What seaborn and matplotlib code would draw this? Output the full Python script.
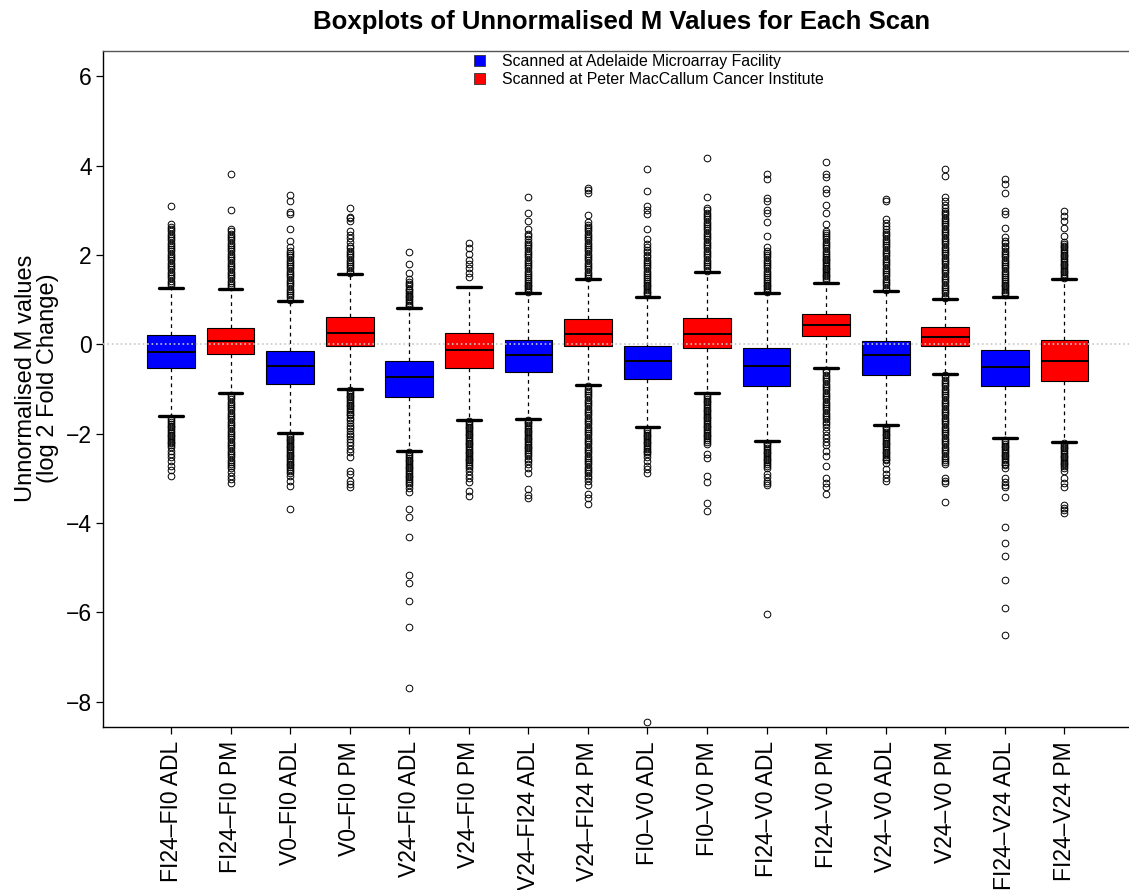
import numpy as np
import pandas as pd
import matplotlib
matplotlib.use("Agg")
import matplotlib.pyplot as plt
from matplotlib.patches import Patch
import seaborn as sns

# ---------------- data ----------------
scans = ["FI24–FI0 ADL", "FI24–FI0 PM", "V0–FI0 ADL", "V0–FI0 PM",
         "V24–FI0 ADL", "V24–FI0 PM", "V24–FI24 ADL", "V24–FI24 PM",
         "FI0–V0 ADL", "FI0–V0 PM", "FI24–V0 ADL", "FI24–V0 PM",
         "V24–V0 ADL", "V24–V0 PM", "FI24–V24 ADL", "FI24–V24 PM"]
sites = ["ADL", "PM"] * 8

q1 = [-0.53, -0.22, -0.89, -0.04, -1.19, -0.53, -0.61, -0.03,
      -0.77, -0.09, -0.93, 0.18, -0.69, -0.04, -0.93, -0.82]
median = [-0.17, 0.08, -0.48, 0.26, -0.74, -0.12, -0.24, 0.24,
          -0.38, 0.24, -0.48, 0.44, -0.24, 0.17, -0.50, -0.37]
q3 = [0.21, 0.37, -0.14, 0.61, -0.38, 0.25, 0.10, 0.57,
      -0.03, 0.60, -0.09, 0.68, 0.07, 0.39, -0.12, 0.10]
whisk_lo = [-1.60, -1.10, -1.99, -1.00, -2.38, -1.69, -1.67, -0.91,
            -1.85, -1.10, -2.16, -0.52, -1.80, -0.66, -2.09, -2.18]
whisk_hi = [1.27, 1.25, 0.96, 1.57, 0.82, 1.29, 1.16, 1.46,
            1.06, 1.61, 1.15, 1.37, 1.20, 1.01, 1.05, 1.46]

out_hi = [
    [1.33, 1.38, 1.43, 1.48, 1.53, 1.58, 1.63, 1.68, 1.73, 1.78, 1.83, 1.88, 1.93, 1.98, 2.03,
     2.08, 2.13, 2.18, 2.23, 2.28, 2.33, 2.38, 2.43, 2.48, 2.53, 2.58, 2.62, 2.70, 3.09],
    [1.28, 1.33, 1.38, 1.43, 1.48, 1.53, 1.58, 1.63, 1.68, 1.73, 1.78, 1.83, 1.88, 1.93, 1.98,
     2.03, 2.08, 2.13, 2.18, 2.23, 2.28, 2.33, 2.38, 2.43, 2.48, 2.53, 2.58, 3.02, 3.81],
    [1.00, 1.05, 1.10, 1.15, 1.20, 1.25, 1.30, 1.35, 1.40, 1.45, 1.50, 1.55, 1.60, 1.65, 1.70,
     1.75, 1.80, 1.85, 1.90, 1.95, 2.00, 2.05, 2.10, 2.17, 2.32, 2.58, 2.91, 2.97, 3.21, 3.35],
    [1.60, 1.65, 1.70, 1.75, 1.80, 1.85, 1.90, 1.95, 2.00, 2.05, 2.10, 2.15, 2.20, 2.29, 2.39,
     2.45, 2.54, 2.76, 2.82, 2.86, 3.06],
    [0.85, 0.89, 0.93, 0.97, 1.01, 1.05, 1.09, 1.13, 1.17, 1.21, 1.25, 1.30, 1.35, 1.40, 1.46,
     1.60, 1.81, 2.06],
    [1.51, 1.60, 1.70, 1.79, 1.90, 2.02, 2.15, 2.28],
    [1.18, 1.22, 1.26, 1.30, 1.34, 1.38, 1.42, 1.46, 1.50, 1.55, 1.60, 1.65, 1.70, 1.75, 1.80,
     1.85, 1.90, 1.95, 2.00, 2.05, 2.10, 2.15, 2.20, 2.25, 2.30, 2.36, 2.42, 2.47, 2.58, 2.76,
     2.95, 3.31],
    [1.48, 1.53, 1.58, 1.63, 1.68, 1.73, 1.78, 1.83, 1.88, 1.93, 1.98, 2.03, 2.08, 2.13, 2.18,
     2.23, 2.28, 2.33, 2.38, 2.43, 2.48, 2.53, 2.58, 2.63, 2.68, 2.73, 2.90, 3.38, 3.45, 3.50],
    [1.10, 1.14, 1.18, 1.22, 1.26, 1.30, 1.34, 1.38, 1.42, 1.46, 1.50, 1.55, 1.60, 1.65, 1.70,
     1.75, 1.80, 1.85, 1.90, 1.95, 2.00, 2.06, 2.12, 2.18, 2.24, 2.36, 2.58, 2.91, 3.00, 3.10,
     3.44, 3.92],
    [1.65, 1.70, 1.75, 1.80, 1.85, 1.90, 1.95, 2.00, 2.05, 2.10, 2.15, 2.20, 2.25, 2.30, 2.35,
     2.40, 2.45, 2.50, 2.55, 2.60, 2.65, 2.70, 2.75, 2.80, 2.85, 2.90, 2.95, 3.00, 3.06, 3.29,
     4.18],
    [1.18, 1.22, 1.26, 1.30, 1.34, 1.38, 1.42, 1.46, 1.50, 1.55, 1.60, 1.65, 1.70, 1.75, 1.80,
     1.85, 1.90, 1.95, 2.00, 2.05, 2.10, 2.17, 2.43, 2.74, 2.95, 3.02, 3.21, 3.27, 3.70, 3.81],
    [1.44, 1.48, 1.52, 1.56, 1.60, 1.64, 1.68, 1.72, 1.76, 1.80, 1.84, 1.88, 1.92, 1.96, 2.00,
     2.05, 2.10, 2.15, 2.20, 2.25, 2.30, 2.35, 2.40, 2.45, 2.50, 2.54, 2.70, 2.95, 3.13, 3.40,
     3.48, 3.75, 3.82, 4.09],
    [1.22, 1.27, 1.32, 1.37, 1.42, 1.47, 1.52, 1.57, 1.62, 1.67, 1.72, 1.77, 1.82, 1.87, 1.92,
     1.97, 2.02, 2.07, 2.12, 2.17, 2.22, 2.27, 2.32, 2.37, 2.42, 2.47, 2.52, 2.58, 2.65, 2.72,
     2.80, 3.21, 3.25],
    [1.04, 1.09, 1.14, 1.19, 1.24, 1.29, 1.34, 1.39, 1.44, 1.49, 1.54, 1.59, 1.64, 1.69, 1.74,
     1.79, 1.84, 1.89, 1.94, 1.99, 2.04, 2.09, 2.14, 2.19, 2.24, 2.29, 2.34, 2.39, 2.44, 2.49,
     2.54, 2.59, 2.64, 2.69, 2.74, 2.79, 2.84, 2.89, 2.94, 2.99, 3.05, 3.12, 3.20, 3.29, 3.77,
     3.92],
    [1.10, 1.14, 1.18, 1.22, 1.26, 1.30, 1.34, 1.38, 1.42, 1.46, 1.50, 1.55, 1.60, 1.65, 1.70,
     1.75, 1.80, 1.85, 1.90, 1.95, 2.00, 2.05, 2.10, 2.15, 2.20, 2.26, 2.32, 2.40, 2.60, 2.91,
     2.99, 3.40, 3.60, 3.70],
    [1.49, 1.53, 1.57, 1.61, 1.65, 1.69, 1.73, 1.77, 1.81, 1.85, 1.89, 1.93, 1.97, 2.01, 2.05,
     2.09, 2.13, 2.17, 2.21, 2.24, 2.30, 2.43, 2.60, 2.76, 2.88, 2.99],
]

out_lo = [
    [-1.66, -1.70, -1.74, -1.78, -1.82, -1.86, -1.90, -1.94, -1.98, -2.02, -2.06, -2.10, -2.14,
     -2.18, -2.22, -2.26, -2.31, -2.38, -2.45, -2.53, -2.61, -2.72, -2.82, -2.94],
    [-1.13, -1.18, -1.23, -1.28, -1.33, -1.38, -1.43, -1.48, -1.53, -1.58, -1.63, -1.68, -1.73,
     -1.78, -1.83, -1.88, -1.93, -1.98, -2.03, -2.08, -2.13, -2.18, -2.23, -2.28, -2.33, -2.38,
     -2.43, -2.48, -2.53, -2.58, -2.63, -2.68, -2.73, -2.78, -2.85, -2.94, -3.02, -3.10],
    [-2.03, -2.07, -2.11, -2.15, -2.19, -2.23, -2.27, -2.31, -2.35, -2.39, -2.43, -2.47, -2.51,
     -2.55, -2.59, -2.63, -2.67, -2.71, -2.75, -2.79, -2.83, -2.88, -2.94, -3.05, -3.17, -3.69],
    [-1.03, -1.07, -1.11, -1.15, -1.19, -1.23, -1.27, -1.31, -1.35, -1.39, -1.43, -1.47, -1.51,
     -1.55, -1.59, -1.64, -1.70, -1.76, -1.82, -1.88, -1.94, -2.00, -2.06, -2.12, -2.18, -2.26,
     -2.34, -2.42, -2.53, -2.83, -2.90, -3.05, -3.12, -3.20],
    [-2.42, -2.46, -2.50, -2.54, -2.58, -2.62, -2.66, -2.70, -2.74, -2.78, -2.82, -2.86, -2.90,
     -2.94, -2.98, -3.02, -3.06, -3.10, -3.16, -3.22, -3.30, -3.69, -3.86, -4.32, -5.17, -5.35,
     -5.74, -6.32, -7.70],
    [-1.72, -1.76, -1.80, -1.84, -1.88, -1.92, -1.96, -2.00, -2.04, -2.08, -2.12, -2.16, -2.20,
     -2.24, -2.28, -2.32, -2.36, -2.40, -2.44, -2.48, -2.52, -2.56, -2.60, -2.64, -2.68, -2.72,
     -2.78, -2.84, -2.92, -3.00, -3.09, -3.28, -3.39],
    [-1.69, -1.73, -1.77, -1.81, -1.85, -1.89, -1.93, -1.97, -2.01, -2.05, -2.09, -2.13, -2.17,
     -2.21, -2.25, -2.29, -2.33, -2.37, -2.41, -2.45, -2.50, -2.56, -2.62, -2.68, -2.76, -2.88,
     -3.25, -3.38, -3.45],
    [-0.94, -0.99, -1.04, -1.09, -1.14, -1.19, -1.24, -1.29, -1.34, -1.39, -1.44, -1.49, -1.54,
     -1.59, -1.64, -1.69, -1.74, -1.79, -1.84, -1.89, -1.94, -1.99, -2.04, -2.09, -2.14, -2.19,
     -2.24, -2.29, -2.34, -2.39, -2.44, -2.49, -2.54, -2.59, -2.64, -2.69, -2.74, -2.79, -2.84,
     -2.89, -2.94, -3.00, -3.06, -3.16, -3.35, -3.45, -3.57],
    [-1.90, -1.94, -1.98, -2.02, -2.06, -2.10, -2.14, -2.18, -2.22, -2.26, -2.30, -2.34, -2.38,
     -2.42, -2.46, -2.53, -2.62, -2.72, -2.80, -2.88, -8.45],
    [-1.14, -1.18, -1.22, -1.26, -1.30, -1.34, -1.38, -1.42, -1.46, -1.50, -1.54, -1.58, -1.62,
     -1.66, -1.70, -1.74, -1.78, -1.82, -1.86, -1.90, -1.94, -1.98, -2.02, -2.06, -2.10, -2.14,
     -2.18, -2.23, -2.45, -2.55, -2.94, -3.09, -3.56, -3.73],
    [-2.20, -2.24, -2.28, -2.32, -2.36, -2.40, -2.44, -2.48, -2.52, -2.56, -2.60, -2.64, -2.68,
     -2.72, -2.76, -2.90, -2.98, -3.05, -3.10, -3.15, -6.04],
    [-0.58, -0.63, -0.68, -0.73, -0.78, -0.83, -0.88, -0.93, -0.98, -1.03, -1.08, -1.13, -1.18,
     -1.23, -1.28, -1.33, -1.38, -1.43, -1.48, -1.53, -1.58, -1.63, -1.68, -1.73, -1.78, -1.86,
     -1.94, -2.02, -2.10, -2.18, -2.26, -2.38, -2.50, -2.72, -3.00, -3.10, -3.20, -3.35],
    [-1.84, -1.88, -1.92, -1.96, -2.00, -2.04, -2.08, -2.12, -2.16, -2.20, -2.24, -2.28, -2.32,
     -2.36, -2.40, -2.44, -2.48, -2.52, -2.56, -2.60, -2.65, -2.80, -2.90, -3.00, -3.05],
    [-0.69, -0.74, -0.79, -0.84, -0.89, -0.94, -0.99, -1.04, -1.09, -1.14, -1.19, -1.24, -1.29,
     -1.34, -1.39, -1.44, -1.49, -1.54, -1.59, -1.64, -1.69, -1.74, -1.79, -1.84, -1.89, -1.94,
     -1.99, -2.04, -2.09, -2.14, -2.19, -2.24, -2.29, -2.34, -2.39, -2.44, -2.49, -2.54, -2.59,
     -2.64, -2.68, -3.00, -3.05, -3.10, -3.54],
    [-2.15, -2.19, -2.23, -2.27, -2.31, -2.35, -2.39, -2.43, -2.47, -2.51, -2.55, -2.59, -2.63,
     -2.67, -2.71, -2.76, -3.00, -3.08, -3.15, -3.20, -3.41, -4.09, -4.44, -4.74, -5.28, -5.91,
     -6.50],
    [-2.21, -2.25, -2.29, -2.33, -2.37, -2.41, -2.45, -2.49, -2.53, -2.57, -2.61, -2.65, -2.69,
     -2.73, -2.78, -2.83, -3.00, -3.10, -3.20, -3.60, -3.66, -3.72, -3.77],
]

legend_labels = ["Scanned at Adelaide Microarray Facility",
                 "Scanned at Peter MacCallum Cancer Institute"]
site_colors = {"ADL": "#0000FF", "PM": "#FF0000"}

# ------------- build a long table whose box statistics match -------------
N_CORE = 1000  # weight of the quartile/median values so the quantiles land on them
rows = []
for i, name in enumerate(scans):
    vals = (list(out_lo[i]) + [whisk_lo[i]] + [q1[i]] * N_CORE + [median[i]] * N_CORE
            + [q3[i]] * N_CORE + [whisk_hi[i]] + list(out_hi[i]))
    rows.append(pd.DataFrame({"scan": name, "site": sites[i], "M": vals}))
df = pd.concat(rows, ignore_index=True)

# ---------------- plot ----------------
sns.set_style("white")
plt.rcParams["font.family"] = ["Liberation Sans", "DejaVu Sans"]
plt.rcParams["text.color"] = "black"
plt.rcParams["xtick.color"] = "black"
plt.rcParams["ytick.color"] = "black"
plt.rcParams["axes.labelcolor"] = "black"

W, H = 1129, 890
fig = plt.figure(figsize=(W / 100, H / 100), dpi=100)
ax_left, ax_right, ax_top, ax_bottom = 103, 1132, 51, 727
ax = fig.add_axes([ax_left / W, 1 - ax_bottom / H,
                   (ax_right - ax_left) / W, (ax_bottom - ax_top) / H])

sns.boxplot(data=df, x="scan", y="M", hue="site", order=scans,
            palette=site_colors, saturation=1, dodge=False, width=0.8, whis=1.5,
            linecolor="black", linewidth=0.8, legend=False, ax=ax,
            flierprops=dict(marker="o", markerfacecolor="none",
                            markeredgecolor="black", markeredgewidth=0.7,
                            markersize=4.8),
            whiskerprops=dict(linestyle=(0, (3, 3)), linewidth=0.9, color="black"),
            capprops=dict(linewidth=2.4, color="black"),
            medianprops=dict(linewidth=1.4, color="black"))

ax.axhline(0, color="#c8c8c8", linestyle=":", linewidth=1.2, zorder=10)

ax.set_xlim(-1.142, 16.135)
ax.set_ylim(-8.57, 6.57)
ax.set_yticks([-8, -6, -4, -2, 0, 2, 4, 6])
ax.set_xlabel("")
ax.set_ylabel("")
ax.tick_params(axis="both", which="major", length=5, width=0.9, colors="black",
               labelsize=16.5, pad=3, direction="out")
ax.tick_params(axis="x", labelrotation=90, pad=5)
ax.tick_params(left=True, bottom=True)
for s in ax.spines.values():
    s.set_visible(True)
    s.set_color("black")
    s.set_linewidth(1.0)
ax.spines["top"].set_color("#555555")

fig.text(622 / W, 1 - 22 / H, "Boxplots of Unnormalised M Values for Each Scan",
         ha="center", va="center", fontsize=18.5, fontweight="bold", color="black")
fig.text(37 / W, 1 - 378 / H, "Unnormalised M values\n(log 2 Fold Change)",
         rotation=90, ha="center", va="center", fontsize=17, linespacing=1.0,
         multialignment="center", color="black")

handles = [Patch(facecolor=site_colors["ADL"], edgecolor="#333333", linewidth=0.6),
           Patch(facecolor=site_colors["PM"], edgecolor="#333333", linewidth=0.6)]
fig.legend(handles, legend_labels, loc="upper left",
           bbox_to_anchor=(474 / W, 1 - 54 / H), frameon=False, fontsize=11.4,
           handlelength=0.7, handleheight=0.7, handletextpad=1.1,
           labelspacing=0.2, borderpad=0, borderaxespad=0, labelcolor="black")

fig.savefig("out.png", dpi=100)
